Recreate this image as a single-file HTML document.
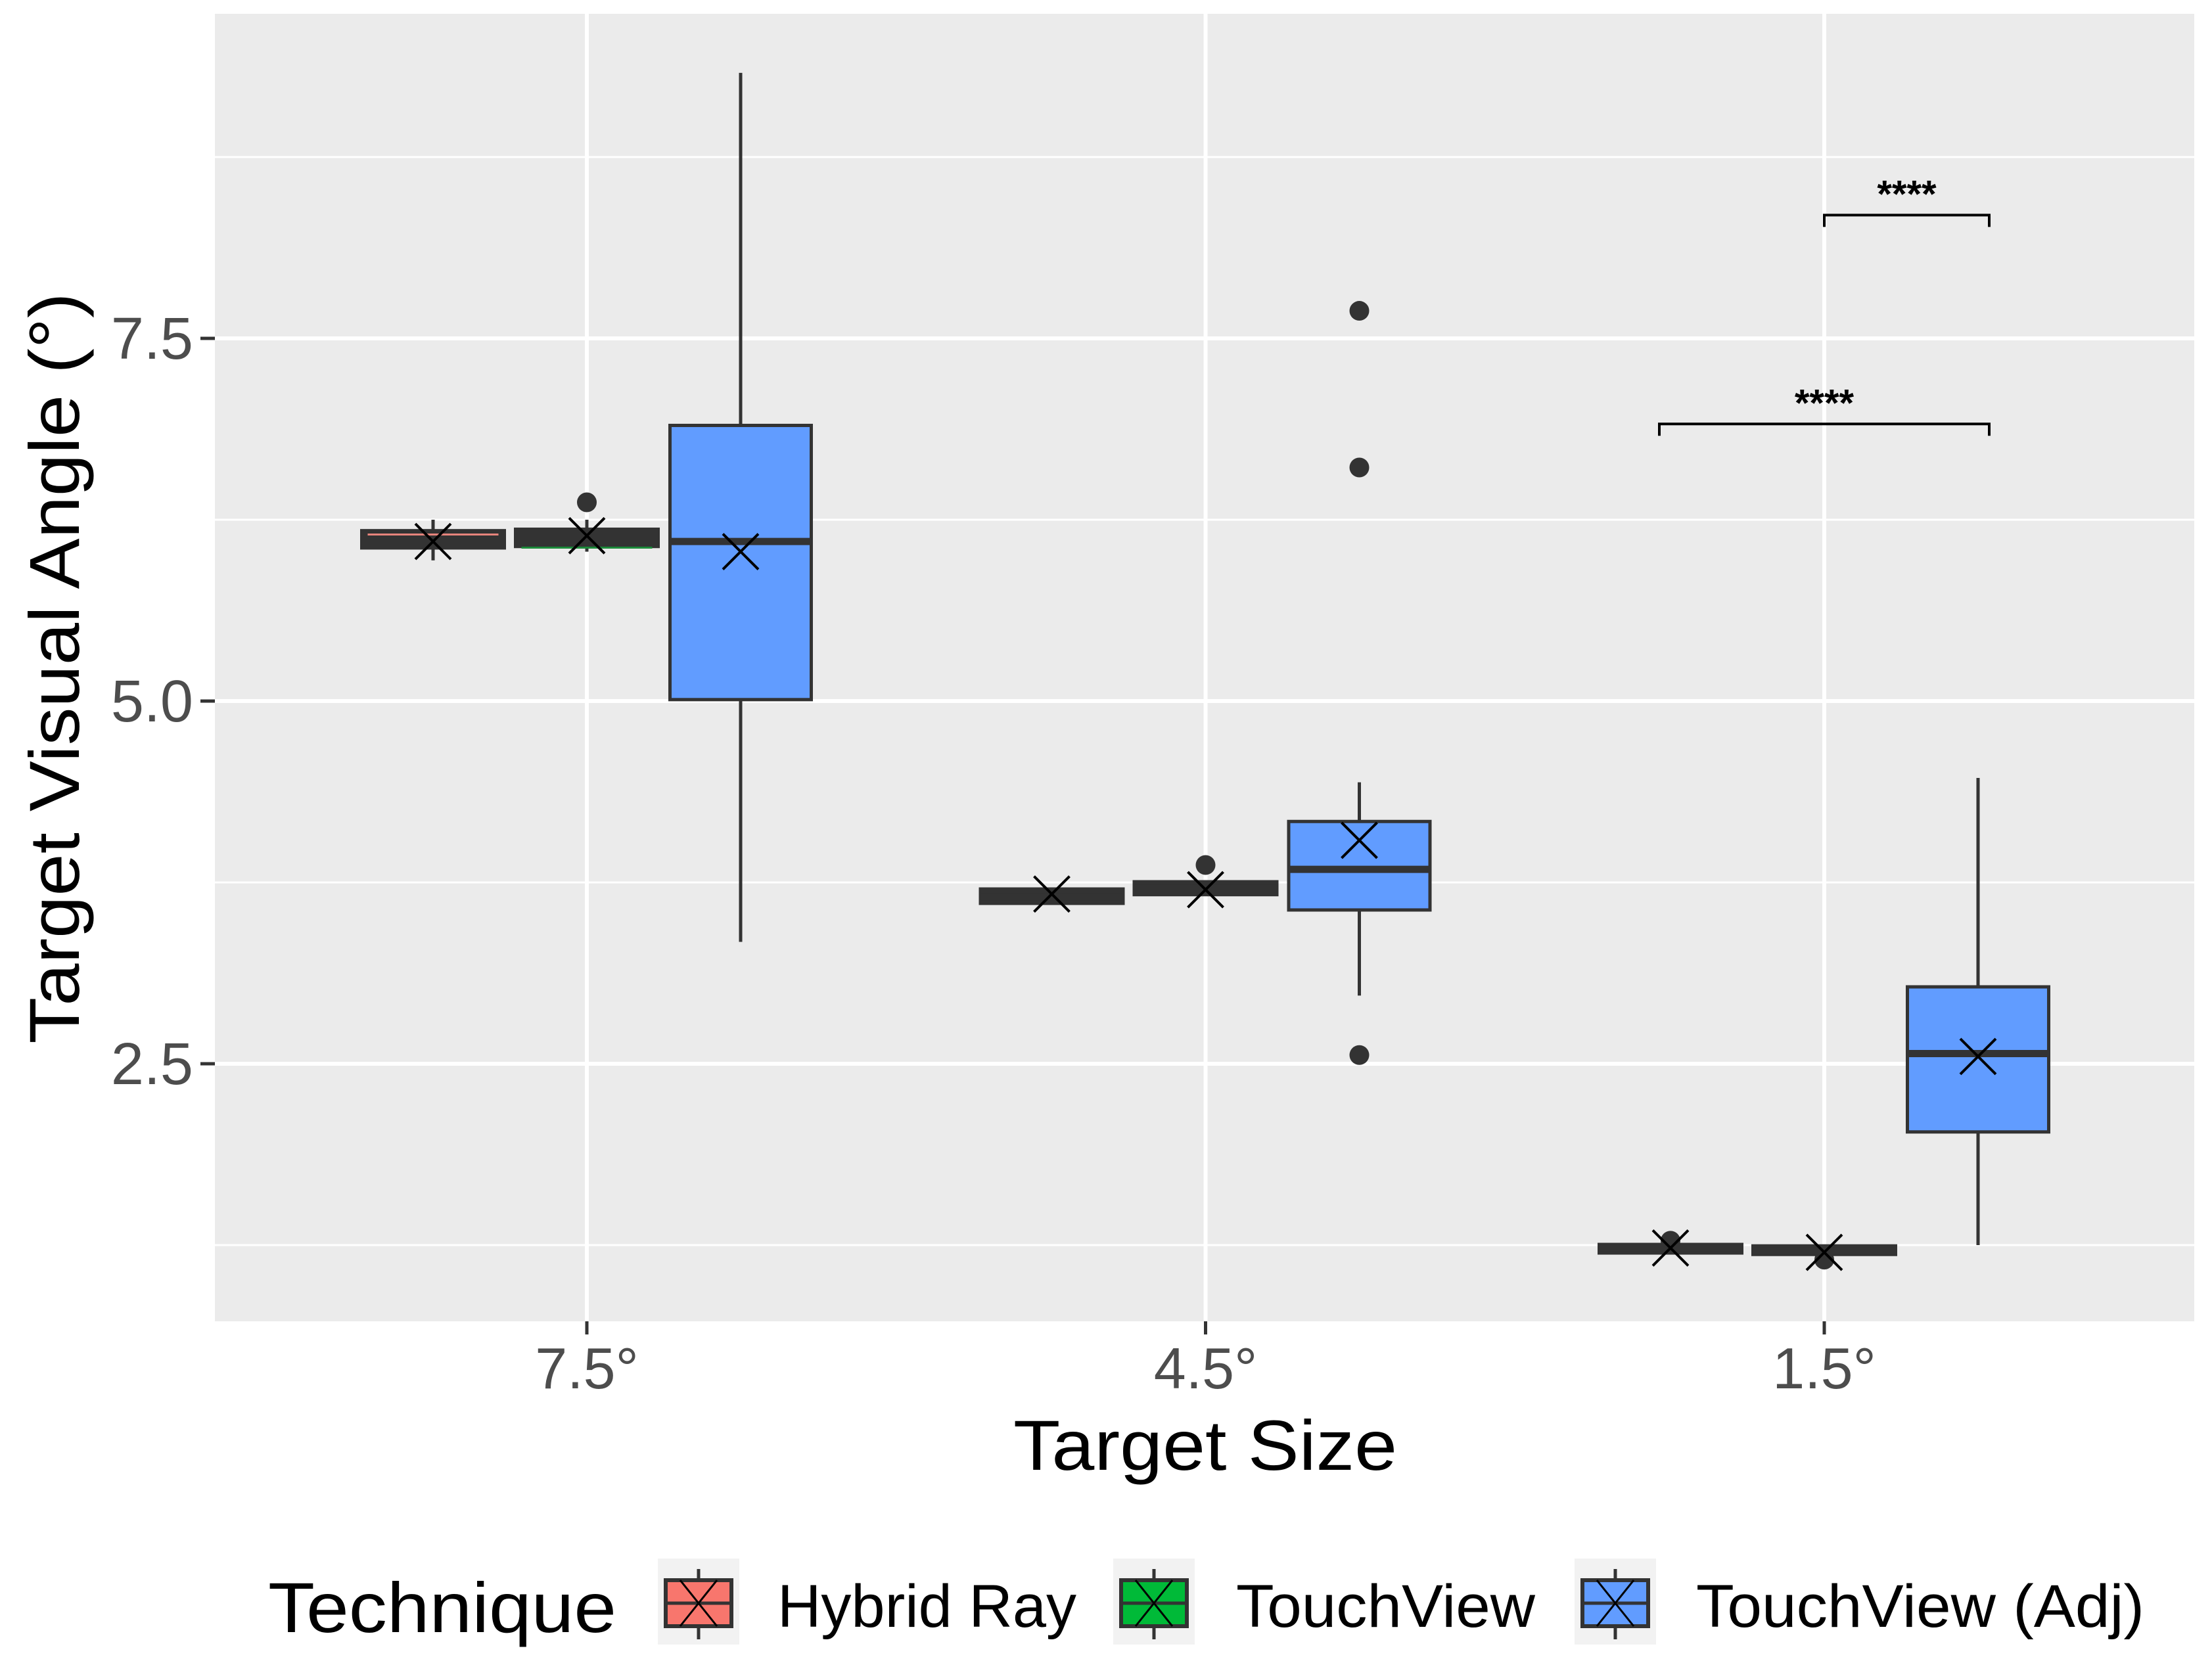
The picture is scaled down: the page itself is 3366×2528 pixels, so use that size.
<!DOCTYPE html>
<html><head><meta charset="utf-8"><style>
html,body{margin:0;padding:0;background:#fff;}
svg{display:block;font-family:"Liberation Sans",Arial,sans-serif;}
</style></head><body>
<svg id="chart" width="3366" height="2528" viewBox="0 0 3366 2528">
<rect x="0" y="0" width="3366" height="2528" fill="#fff"/>
<g id="panel"></g>
<g id="marks"></g>
<g id="axes"></g>
<text x="120" y="1017" transform="rotate(-90 120 1017)" text-anchor="middle" font-size="108" textLength="1143" lengthAdjust="spacingAndGlyphs" fill="#000">Target Visual Angle (°)</text>
<text x="1834" y="2237" text-anchor="middle" font-size="108" textLength="584" lengthAdjust="spacingAndGlyphs" fill="#000">Target Size</text>
<g id="legend">
<text x="408" y="2484" font-size="108" textLength="530" lengthAdjust="spacingAndGlyphs" fill="#000">Technique</text>
</g>
</svg>
<script>
const categories = ["7.5°", "4.5°", "1.5°"];
const techniques = ["Hybrid Ray", "TouchView", "TouchView (Adj)"];
const colors = ["#F8766D", "#00BA38", "#619CFF"];
// per technique, per category
const whiskerLow = [[5.97, 3.60, 1.19], [6.03, 3.66, 1.18], [3.34, 2.97, 1.25]];
const q1 = [[6.06, 3.61, 1.20], [6.07, 3.67, 1.19], [5.01, 3.56, 2.03]];
const median = [[6.13, 3.65, 1.23], [6.08, 3.71, 1.21], [6.10, 3.84, 2.57]];
const q3 = [[6.17, 3.70, 1.25], [6.18, 3.75, 1.24], [6.90, 4.17, 3.03]];
const whiskerHigh = [[6.25, 3.70, 1.26], [6.25, 3.76, 1.25], [9.33, 4.44, 4.47]];
const means = [[6.10, 3.67, 1.23], [6.14, 3.70, 1.20], [6.03, 4.04, 2.55]];
const outliers = [[[], [], [1.28]], [[6.37], [3.87], [1.15]], [[], [7.69, 6.61, 2.56], []]];
const yTicks = [2.5, 5.0, 7.5];
const yTickLabels = ["2.5", "5.0", "7.5"];
const yMinor = [1.25, 3.75, 6.25, 8.75];
const sigBrackets = [[1, 2, 8.35, "****"], [0, 2, 6.91, "****"]]; // [fromTechnique, toTechnique, y, label] in group 1.5°
const sigGroup = 2;

const NS = "http://www.w3.org/2000/svg";
const PL = 327, PR = 3339, PT = 21, PB = 2011;
function y(v) { return 1067 - (v - 5) * 220.8; }
function xc(ci) { return 893 + ci * 941.5; }
function xd(ci, ti) { return xc(ci) + (ti - 1) * 234; }
function xb(ci, ti) { return xd(ci, ti) + (ti === 0 ? -17 : ti === 2 ? 17 : 0); }
const BW = 215;
function mk(parent, tag, attrs) {
  const e = document.createElementNS(NS, tag);
  for (const k in attrs) e.setAttribute(k, attrs[k]);
  parent.appendChild(e);
  return e;
}
const panel = document.getElementById("panel");
const marks = document.getElementById("marks");
const axes = document.getElementById("axes");
const legend = document.getElementById("legend");

let r = mk(panel, "rect", {x: PL, y: PT, width: PR - PL, height: PB - PT, fill: "#EBEBEB"});


yMinor.forEach(v => {
  const l = mk(panel, "line", {x1: PL, x2: PR, y1: y(v), y2: y(v), stroke: "#fff", "stroke-width": 3});
  
  
});
yTicks.forEach((v, i) => {
  const l = mk(panel, "line", {x1: PL, x2: PR, y1: y(v), y2: y(v), stroke: "#fff", "stroke-width": 6});
  
  
  const t = mk(axes, "line", {x1: 305, x2: PL, y1: y(v), y2: y(v), stroke: "#333", "stroke-width": 5});
  
  
  const tx = mk(axes, "text", {x: 294, y: y(v) + 31, "text-anchor": "end", "font-size": 90, fill: "#4D4D4D"});
  tx.textContent = yTickLabels[i];
  
  
});
categories.forEach((c, ci) => {
  const l = mk(panel, "line", {x1: xc(ci), x2: xc(ci), y1: PT, y2: PB, stroke: "#fff", "stroke-width": 6});
  
  
  const t = mk(axes, "line", {x1: xc(ci), x2: xc(ci), y1: PB, y2: PB + 20, stroke: "#333", "stroke-width": 5});
  
  
  const tx = mk(axes, "text", {x: xc(ci), y: 2113, "text-anchor": "middle", "font-size": 88, fill: "#4D4D4D"});
  tx.textContent = c;
  
  
});

function drawX(parent, cx, cy, s, w) {
  return mk(parent, "path", {d: `M${cx - s},${cy - s}L${cx + s},${cy + s}M${cx - s},${cy + s}L${cx + s},${cy - s}`, stroke: "#000", "stroke-width": w, fill: "none"});
}

techniques.forEach((tname, ti) => {
  categories.forEach((c, ci) => {
    const cx = xd(ci, ti);
    const g = mk(marks, "g", {});
    
    
    const wh = mk(g, "line", {x1: cx, x2: cx, y1: y(whiskerHigh[ti][ci]), y2: y(whiskerLow[ti][ci]), stroke: "#333", "stroke-width": 5});
    
    
    const top = y(q3[ti][ci]), bot = y(q1[ti][ci]);
    const small = ti < 2;
    const bx = mk(g, "rect", {x: cx - BW / 2, y: top, width: BW, height: Math.max(bot - top, 1), fill: small ? "#333" : colors[ti], stroke: "#333", "stroke-width": small ? 7 : 5});
    
    
    const md = mk(g, "line", {x1: cx - BW / 2, x2: cx + BW / 2, y1: y(median[ti][ci]), y2: y(median[ti][ci]), stroke: "#333", "stroke-width": 11});
    
    
    if (small && ci === 0) {
      const off = ti === 0 ? -4 : 5;
      const ml = mk(g, "line", {x1: cx - BW / 2 + 8, x2: cx + BW / 2 - 8, y1: y(median[ti][ci]) + off, y2: y(median[ti][ci]) + off, stroke: ti === 0 ? "#e8847c" : "#1c8a3a", "stroke-width": 3});
      
      
    }
    outliers[ti][ci].forEach(v => {
      const o = mk(g, "circle", {cx: cx, cy: y(v), r: 15, fill: "#333"});
      
      
    });
    const m = drawX(g, cx, y(means[ti][ci]), 27, 4);
    
    
  });
});

sigBrackets.forEach(b => {
  const x1 = xb(sigGroup, b[0]), x2 = xb(sigGroup, b[1]), yy = y(b[2]);
  const p = mk(marks, "path", {d: `M${x1},${yy + 18}V${yy}H${x2}V${yy + 18}`, stroke: "#000", "stroke-width": 4, fill: "none"});
  
  
  const t = mk(marks, "text", {x: (x1 + x2) / 2, y: yy - 12, "text-anchor": "middle", "font-size": 58, "font-weight": "bold", fill: "#000"});
  t.textContent = b[3];
  
  
});

const keyX = [1001, 1694, 2396];
const labX = [1183, 1881, 2581];
const labW = [455, 455, 682];
techniques.forEach((tname, ti) => {
  const g = mk(legend, "g", {});
  
  
  const bg = mk(g, "rect", {x: keyX[ti], y: 2372, width: 124, height: 131, fill: "#F2F2F2"});
  
  
  const cx = keyX[ti] + 62;
  const wl = mk(g, "line", {x1: cx, x2: cx, y1: 2388, y2: 2495, stroke: "#333", "stroke-width": 5});
  
  
  const b = mk(g, "rect", {x: keyX[ti] + 12, y: 2405, width: 100, height: 70, fill: colors[ti], stroke: "#333", "stroke-width": 6});
  
  
  const ml = mk(g, "line", {x1: keyX[ti] + 12, x2: keyX[ti] + 112, y1: 2440, y2: 2440, stroke: "#333", "stroke-width": 5});
  
  
  const xm = mk(g, "path", {d: `M${cx - 28},${2405}L${cx + 28},${2475}M${cx - 28},${2475}L${cx + 28},${2405}`, stroke: "#000", "stroke-width": 3, fill: "none"});
  
  
  const t = mk(g, "text", {x: labX[ti], y: 2476, "font-size": 92, textLength: labW[ti], lengthAdjust: "spacingAndGlyphs", fill: "#000"});
  t.textContent = tname;
  
  
});
</script>
</body></html>
